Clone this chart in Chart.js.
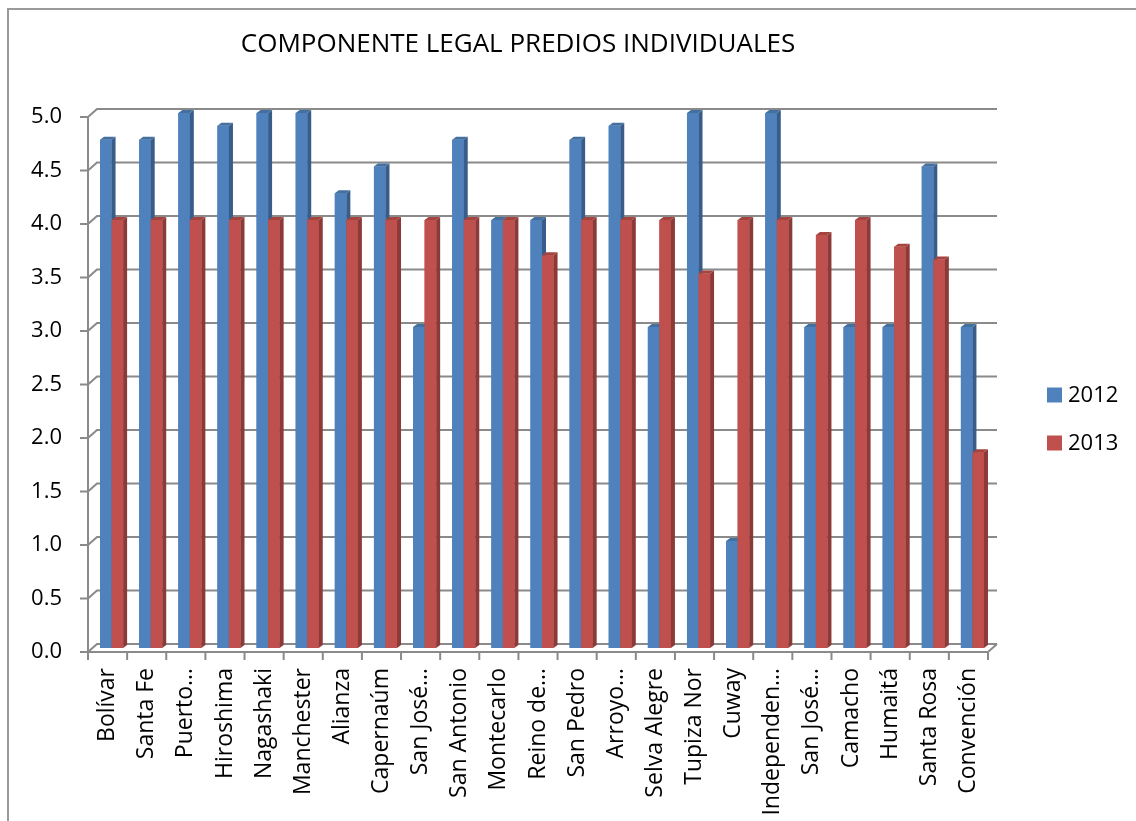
<!DOCTYPE html>
<html>
<head>
<meta charset="utf-8">
<script src="https://cdn.jsdelivr.net/npm/chart.js@4/dist/chart.umd.min.js"></script>
<style>
  html, body { margin: 0; padding: 0; background: #ffffff; }
  #wrap { width: 1136px; height: 821px; position: relative; }
</style>
</head>
<body>
<div id="wrap"><canvas id="c" width="1136" height="821"></canvas></div>
<script>
const chartTitle = 'COMPONENTE LEGAL PREDIOS INDIVIDUALES';
const categories = ['Bolívar','Santa Fe','Puerto…','Hiroshima','Nagashaki','Manchester','Alianza','Capernaúm','San José…','San Antonio','Montecarlo','Reino de…','San Pedro','Arroyo…','Selva Alegre','Tupiza Nor','Cuway','Independen…','San José…','Camacho','Humaitá','Santa Rosa','Convención'];
const seriesNames = ['2012', '2013'];
const values2012 = [4.75, 4.75, 5, 4.88, 5, 5, 4.25, 4.5, 3, 4.75, 4, 4, 4.75, 4.88, 3, 5, 1, 5, 3, 3, 3, 4.5, 3];
const values2013 = [4, 4, 4, 4, 4, 4, 4, 4, 4, 4, 4, 3.67, 4, 4, 4, 3.5, 4, 4, 3.86, 4, 3.75, 3.63, 1.83];
const yTickValues = [0, 0.5, 1, 1.5, 2, 2.5, 3, 3.5, 4, 4.5, 5];

const FONT = '"Open Sans", "Liberation Sans", sans-serif';
const front = ['#4F81BD', '#C0504D'];
const side = ['#385D8A', '#8C3A38'];
const topc = ['#44709F', '#A5443F'];
const GRID = '#8a8a8a';

// 3D offsets relative to the bar plane
const FR = { dx: -4, dy: 4 };   // front plane (axes)
const BK = { dx: 5, dy: -4 };   // back wall
const D = { dx: 4, dy: -3 };    // bar depth

const framePlugin = {
  id: 'frame3d',
  beforeDraw(chart) {
    const ctx = chart.ctx;
    ctx.save();
    ctx.fillStyle = '#ffffff';
    ctx.fillRect(0, 0, chart.width, chart.height);
    ctx.strokeStyle = '#9a9a9a';
    ctx.lineWidth = 2;
    ctx.beginPath();
    ctx.moveTo(8, chart.height + 5);
    ctx.lineTo(8, 9);
    ctx.lineTo(chart.width + 5, 9);
    ctx.stroke();
    ctx.fillStyle = '#000';
    ctx.font = '26px ' + FONT;
    ctx.textAlign = 'center';
    ctx.textBaseline = 'middle';
    ctx.fillText(chartTitle, 518, 45);
    chart.data.datasets.forEach((ds, i) => {
      const y = 395 + i * 48;
      ctx.fillStyle = ds.backgroundColor;
      ctx.fillRect(1047, y - 7.5, 15, 15);
      ctx.fillStyle = '#000';
      ctx.font = '22px ' + FONT;
      ctx.textAlign = 'left';
      ctx.textBaseline = 'middle';
      ctx.fillText(ds.label, 1068, y + 1);
    });
    ctx.restore();
  },
  beforeDatasetsDraw(chart) {
    const ctx = chart.ctx;
    const ys = chart.scales.y;
    const a = chart.chartArea;
    ctx.save();
    ctx.strokeStyle = GRID;
    ctx.lineWidth = 2;
    ctx.lineCap = 'butt';
    const fL = a.left + FR.dx, bL = a.left + BK.dx;
    const fR = a.right + FR.dx, bR = a.right + BK.dx;
    yTickValues.forEach(v => {
      const y = ys.getPixelForValue(v);
      ctx.beginPath();
      ctx.moveTo(fL - 8, y + FR.dy);
      ctx.lineTo(fL, y + FR.dy);
      ctx.lineTo(bL, y + BK.dy);
      ctx.lineTo(bR, y + BK.dy);
      ctx.stroke();
    });
    const y0 = ys.getPixelForValue(0), y5 = ys.getPixelForValue(5);
    ctx.beginPath();
    ctx.moveTo(fL, y5 + FR.dy);
    ctx.lineTo(fL, y0 + FR.dy);
    ctx.stroke();
    ctx.beginPath();
    ctx.moveTo(fL, y0 + FR.dy);
    ctx.lineTo(fR, y0 + FR.dy);
    ctx.lineTo(bR, y0 + BK.dy);
    ctx.stroke();
    const n = categories.length;
    const w = (a.right - a.left) / n;
    for (let i = 0; i <= n; i++) {
      const x = a.left + i * w + FR.dx;
      ctx.beginPath();
      ctx.moveTo(x, y0 + FR.dy);
      ctx.lineTo(x, y0 + FR.dy + 8);
      ctx.stroke();
    }
    ctx.restore();
  },
  afterDatasetsDraw(chart) {
    const ctx = chart.ctx;
    const metas = [chart.getDatasetMeta(0), chart.getDatasetMeta(1)];
    ctx.save();
    for (let i = 0; i < categories.length; i++) {
      metas.forEach((m, d) => {
        const el = m.data[i];
        if (!el) return;
        const p = el.getProps(['x', 'y', 'base', 'width'], true);
        const l = p.x - p.width / 2, r = p.x + p.width / 2;
        const t = p.y, b = p.base;
        ctx.fillStyle = front[d];
        ctx.fillRect(l, t, r - l, b - t);
        ctx.fillStyle = side[d];
        ctx.beginPath();
        ctx.moveTo(r, t);
        ctx.lineTo(r + D.dx, t + D.dy);
        ctx.lineTo(r + D.dx, b + D.dy);
        ctx.lineTo(r, b);
        ctx.closePath();
        ctx.fill();
        ctx.fillStyle = topc[d];
        ctx.beginPath();
        ctx.moveTo(l, t);
        ctx.lineTo(l + D.dx, t + D.dy);
        ctx.lineTo(r + D.dx, t + D.dy);
        ctx.lineTo(r, t);
        ctx.closePath();
        ctx.fill();
      });
    }
    ctx.restore();
  }
};

new Chart(document.getElementById('c'), {
  type: 'bar',
  data: {
    labels: categories,
    datasets: [
      { label: seriesNames[0], data: values2012, backgroundColor: front[0], borderWidth: 0 },
      { label: seriesNames[1], data: values2013, backgroundColor: front[1], borderWidth: 0 }
    ]
  },
  options: {
    responsive: false,
    animation: false,
    devicePixelRatio: 1,
    layout: { padding: { left: 0, top: 113, right: 144, bottom: 0 } },
    datasets: { bar: { categoryPercentage: 0.59, barPercentage: 1.0 } },
    plugins: {
      legend: { display: false },
      title: { display: false },
      tooltip: { enabled: false }
    },
    scales: {
      x: {
        grid: { display: false, drawTicks: false },
        border: { display: false },
        ticks: {
          autoSkip: false,
          maxRotation: 90,
          minRotation: 90,
          padding: 20,
          labelOffset: -4,
          color: '#000',
          font: { family: FONT, size: 23 }
        },
        afterFit(scale) { scale.height = 173; }
      },
      y: {
        min: 0,
        max: 5,
        grid: { display: false, drawTicks: false },
        border: { display: false },
        ticks: {
          stepSize: 0.5,
          padding: 30,
          labelOffset: 4,
          color: '#000',
          font: { family: FONT, size: 22 },
          callback: v => Number(v).toFixed(1)
        },
        afterFit(scale) { scale.width = 92; }
      }
    }
  },
  plugins: [framePlugin]
});
</script>
</body>
</html>
